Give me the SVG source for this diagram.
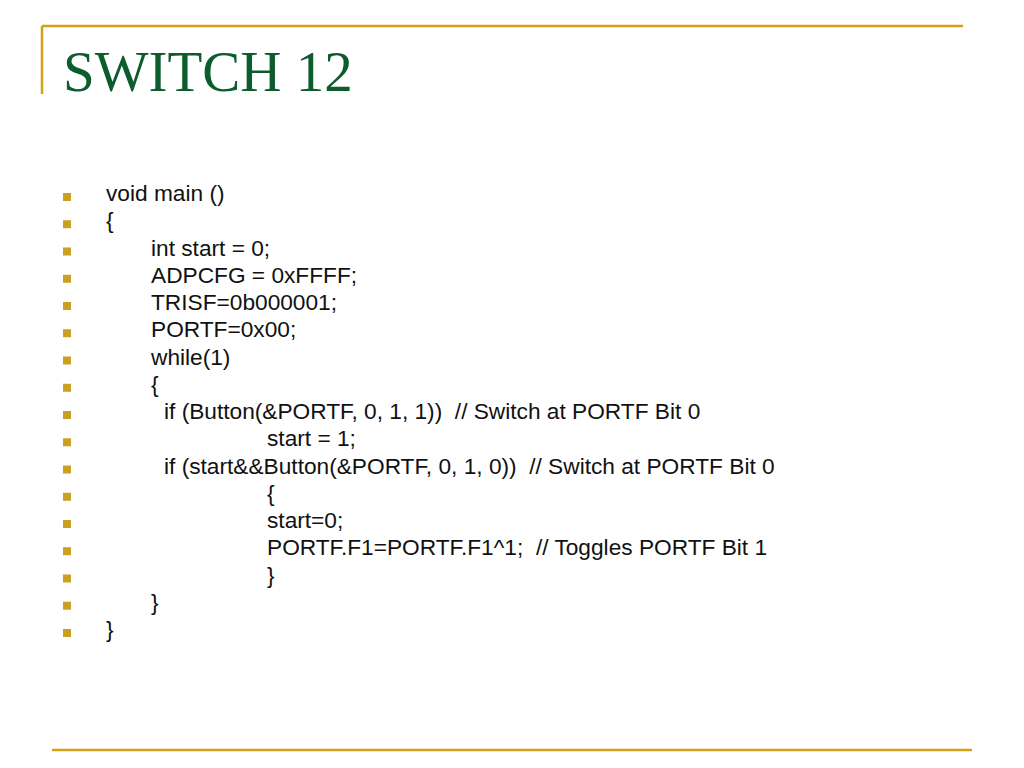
<svg xmlns="http://www.w3.org/2000/svg" width="1024" height="768" viewBox="0 0 1024 768">
<style>
.rule{stroke:#d4a017;stroke-width:2.5;fill:none}
.title{font-family:"Liberation Serif","Times New Roman",serif;font-size:57px;fill:#0d5c2e}
.code{font-family:"Liberation Sans",Arial,sans-serif;font-size:22.7px;fill:#111}
.bul{fill:#c9a024}
</style>
<rect width="1024" height="768" fill="#fff"/>
<g id="frame">
<path class="rule" d="M42,26 H963 M42,26 V94"/>
<path class="rule" d="M52,750 H972"/>
</g>
<g id="title"><text class="title" x="63" y="91">SWITCH 12</text></g>
<g id="bullets" class="bul">
<rect x="63" y="193" width="8" height="8"/>
<rect x="63" y="220.25" width="8" height="8"/>
<rect x="63" y="247.5" width="8" height="8"/>
<rect x="63" y="274.75" width="8" height="8"/>
<rect x="63" y="302" width="8" height="8"/>
<rect x="63" y="329.25" width="8" height="8"/>
<rect x="63" y="356.5" width="8" height="8"/>
<rect x="63" y="383.75" width="8" height="8"/>
<rect x="63" y="411" width="8" height="8"/>
<rect x="63" y="438.25" width="8" height="8"/>
<rect x="63" y="465.5" width="8" height="8"/>
<rect x="63" y="492.75" width="8" height="8"/>
<rect x="63" y="520" width="8" height="8"/>
<rect x="63" y="547.25" width="8" height="8"/>
<rect x="63" y="574.5" width="8" height="8"/>
<rect x="63" y="601.75" width="8" height="8"/>
<rect x="63" y="629" width="8" height="8"/>
</g>
<g id="code" class="code">
<text x="106" y="201">void main ()</text>
<text x="106" y="228.25">{</text>
<text x="151" y="255.5">int start = 0;</text>
<text x="151" y="282.75">ADPCFG = 0xFFFF;</text>
<text x="151" y="310">TRISF=0b000001;</text>
<text x="151" y="337.25">PORTF=0x00;</text>
<text x="151" y="364.5">while(1)</text>
<text x="151" y="391.75">{</text>
<text x="164" y="419" xml:space="preserve">if (Button(&amp;PORTF, 0, 1, 1))  // Switch at PORTF Bit 0</text>
<text x="267" y="446.25">start = 1;</text>
<text x="164" y="473.5" xml:space="preserve">if (start&amp;&amp;Button(&amp;PORTF, 0, 1, 0))  // Switch at PORTF Bit 0</text>
<text x="267" y="500.75">{</text>
<text x="267" y="528">start=0;</text>
<text x="267" y="555.25" xml:space="preserve">PORTF.F1=PORTF.F1^1;  // Toggles PORTF Bit 1</text>
<text x="267" y="582.5">}</text>
<text x="151" y="609.75">}</text>
<text x="106" y="637">}</text>
</g>
</svg>
